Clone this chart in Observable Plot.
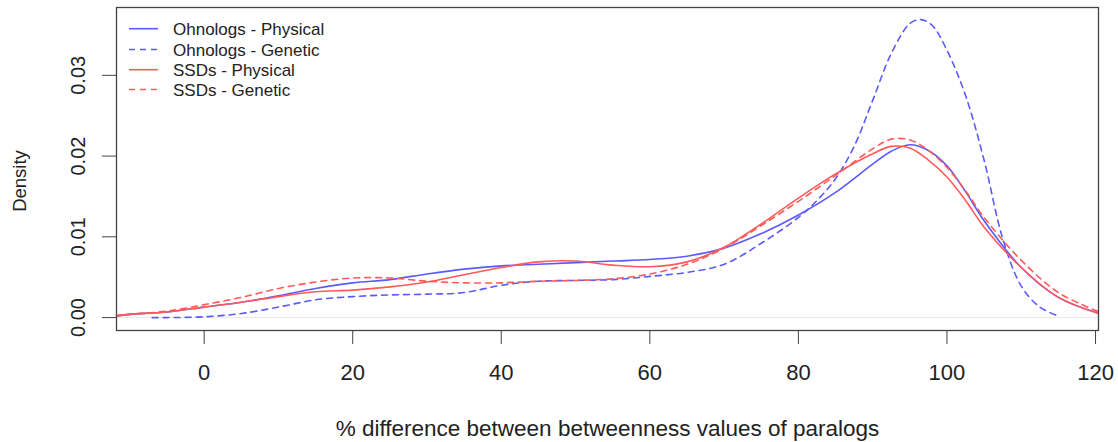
<!DOCTYPE html>
<html>
<head>
<meta charset="utf-8">
<script src="https://cdn.jsdelivr.net/npm/d3@7"></script>
<script src="https://cdn.jsdelivr.net/npm/@observablehq/plot@0.6"></script>
<style>
  html, body { margin: 0; padding: 0; background: #fff; }
  #wrap { position: relative; width: 1118px; height: 442px; font-family: "Liberation Sans", Arial, Helvetica, sans-serif; }
  #legend { position: absolute; left: 0; top: 0; pointer-events: none; }
</style>
</head>
<body>
<div id="wrap"></div>
<script>
// ---- Data ----
const seriesNames = ["Ohnologs - Physical", "Ohnologs - Genetic", "SSDs - Physical", "SSDs - Genetic"];
const seriesColors = ["#5a5aff", "#5a5aff", "#ff5a5a", "#ff5a5a"];
const seriesDash = [null, "6,5", null, "6,5"];

const ohnoPhysX = [-12,-10,-5,0,5,10,15,20,25,30,35,40,45,50,55,60,65,70,75,80,85,90,92.5,95,97.5,100,102.5,105,110,115,120.5];
const ohnoPhysY = [0.0002,0.0004,0.0007,0.0013,0.0019,0.0027,0.0036,0.0043,0.0047,0.0054,0.0060,0.0064,0.0066,0.0068,0.0070,0.0072,0.0076,0.0086,0.0104,0.0127,0.0155,0.0190,0.0206,0.0214,0.0207,0.0188,0.0156,0.0120,0.0062,0.0025,0.0005];

const ohnoGenX = [-7,-5,0,5,10,15,20,25,30,35,40,45,50,55,60,65,70,75,80,82.5,85,87.5,90,92.5,95,96.5,98,100,102.5,105,107.5,110,112.5,115];
const ohnoGenY = [0.0000,0.0000,0.0001,0.0005,0.0013,0.0022,0.0026,0.0028,0.0029,0.0031,0.0040,0.0045,0.0046,0.0047,0.0051,0.0056,0.0066,0.0092,0.0124,0.0145,0.0172,0.0212,0.0269,0.0327,0.0364,0.0369,0.0362,0.0331,0.0275,0.0195,0.0098,0.0039,0.0013,0.0002];

const ssdPhysX = [-12,-10,-5,0,5,10,15,20,25,30,35,40,45,50,55,60,65,70,75,80,85,90,92.5,95,97.5,100,102.5,105,110,115,120.5];
const ssdPhysY = [0.0002,0.0004,0.0007,0.0013,0.0019,0.0026,0.0032,0.0034,0.0038,0.0044,0.0053,0.0062,0.0069,0.0070,0.0065,0.0063,0.0069,0.0087,0.0116,0.0148,0.0178,0.0203,0.0212,0.0210,0.0195,0.0174,0.0145,0.0112,0.0062,0.0025,0.0005];

const ssdGenX = [-12,-10,-5,0,5,10,15,20,25,30,35,40,45,50,55,60,65,70,75,80,85,90,92.5,95,97.5,100,102.5,105,110,115,120.5];
const ssdGenY = [0.0002,0.0004,0.0008,0.0016,0.0025,0.0036,0.0044,0.0049,0.0049,0.0045,0.0043,0.0043,0.0045,0.0046,0.0048,0.0054,0.0066,0.0086,0.0114,0.0144,0.0176,0.0209,0.0221,0.0220,0.0207,0.0186,0.0157,0.0124,0.0071,0.0031,0.0007];

const xTicks = [0, 20, 40, 60, 80, 100, 120];
const yTicks = [0, 0.01, 0.02, 0.03];
const xTitle = "% difference between betweenness values of paralogs";
const yTitle = "Density";

// ---- Build tables ----
const seriesX = [ohnoPhysX, ohnoGenX, ssdPhysX, ssdGenX];
const seriesY = [ohnoPhysY, ohnoGenY, ssdPhysY, ssdGenY];
const tables = seriesNames.map((name, i) => seriesX[i].map((x, j) => ({x, y: seriesY[i][j], series: name})));

const font = '"Liberation Sans", Arial, Helvetica, sans-serif';

const lineMarks = tables.map((t, i) => Plot.line(t, {
  x: "x", y: "y", stroke: seriesColors[i], strokeWidth: 1.6,
  strokeDasharray: seriesDash[i] || undefined, curve: "catmull-rom", clip: true
}));

const chart = Plot.plot({
  width: 1118,
  height: 442,
  marginLeft: 116,
  marginRight: 20,
  marginTop: 7,
  marginBottom: 112,
  style: {fontFamily: font, color: "#222", background: "#fff", overflow: "visible"},
  x: {domain: [-11.8, 120.4]},
  y: {domain: [-0.0016, 0.0384]},
  marks: [
    Plot.ruleY([0], {stroke: "#e8e8e8", strokeWidth: 1}),
    ...lineMarks,
    Plot.frame({stroke: "#444", strokeWidth: 1.3}),
    Plot.axisX({ticks: xTicks, tickSize: 14, tickPadding: 20, fontSize: 22, label: null, stroke: "#444"}),
    Plot.axisY({ticks: yTicks, tickSize: 14, tickPadding: 18, tickRotate: -90, fontSize: 20, tickFormat: d3.format(".2f"), label: null, stroke: "#444"}),
    Plot.text([xTitle], {frameAnchor: "bottom", dy: 98, fontSize: 22.5, textAnchor: "middle", lineAnchor: "middle", fill: "#222"}),
    Plot.text([yTitle], {frameAnchor: "left", dx: -96, dy: 12, rotate: -90, fontSize: 18.5, textAnchor: "middle", lineAnchor: "middle", fill: "#222"})
  ]
});

const wrap = document.getElementById("wrap");
wrap.appendChild(chart);

// ---- Legend (overlay, top-left inside the plot box) ----
const legendRowY = [28.7, 49.5, 69.7, 89.5];
const svgNS = "http://www.w3.org/2000/svg";
const leg = document.createElementNS(svgNS, "svg");
leg.setAttribute("id", "legend");
leg.setAttribute("width", 400);
leg.setAttribute("height", 110);
seriesNames.forEach((name, i) => {
  const ln = document.createElementNS(svgNS, "line");
  ln.setAttribute("x1", 129); ln.setAttribute("x2", 158);
  ln.setAttribute("y1", legendRowY[i]); ln.setAttribute("y2", legendRowY[i]);
  ln.setAttribute("stroke", seriesColors[i]);
  ln.setAttribute("stroke-width", 1.6);
  if (seriesDash[i]) ln.setAttribute("stroke-dasharray", seriesDash[i]);
  leg.appendChild(ln);
  const tx = document.createElementNS(svgNS, "text");
  tx.setAttribute("x", 173);
  tx.setAttribute("y", legendRowY[i] + 6);
  tx.setAttribute("font-size", 17);
  tx.setAttribute("font-family", font);
  tx.setAttribute("fill", "#222");
  tx.textContent = name;
  leg.appendChild(tx);
});
wrap.appendChild(leg);
</script>
</body>
</html>
